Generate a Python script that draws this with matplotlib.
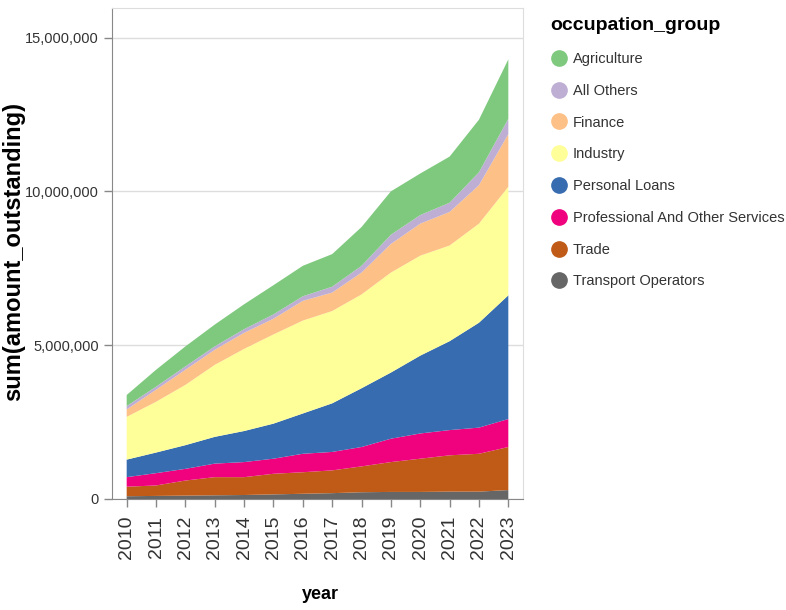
import matplotlib
matplotlib.use("Agg")
import matplotlib.pyplot as plt
from matplotlib.lines import Line2D
from matplotlib.ticker import FuncFormatter
import numpy as np

plt.rcParams["font.family"] = ["Liberation Sans", "DejaVu Sans"]

years = list(range(2010, 2024))

# occupation groups in legend order (stack is drawn bottom-up in reverse)
groups = ["Agriculture", "All Others", "Finance", "Industry", "Personal Loans",
          "Professional And Other Services", "Trade", "Transport Operators"]
colors = ["#7fc97f", "#beaed4", "#fdc086", "#ffff99", "#386cb0",
          "#f0027f", "#bf5b17", "#666666"]

agriculture = [360000, 550000, 650000, 710000, 810000, 950000, 990000,
               1060000, 1260000, 1410000, 1350000, 1500000, 1710000, 1930000]
all_others = [110000, 100000, 110000, 110000, 120000, 140000, 150000,
              190000, 220000, 300000, 280000, 300000, 420000, 500000]
finance = [240000, 390000, 490000, 490000, 520000, 510000, 640000,
           600000, 710000, 930000, 1040000, 1090000, 1250000, 1710000]
industry = [1390000, 1650000, 1960000, 2340000, 2670000, 2900000, 3020000,
            3000000, 3050000, 3250000, 3250000, 3110000, 3220000, 3530000]
personal_loans = [570000, 670000, 770000, 870000, 1010000, 1140000, 1310000,
                  1580000, 1910000, 2150000, 2530000, 2890000, 3410000, 4020000]
professional = [310000, 400000, 380000, 440000, 490000, 490000, 600000,
                600000, 630000, 760000, 820000, 820000, 850000, 910000]
trade = [310000, 340000, 490000, 590000, 580000, 670000, 700000,
         740000, 840000, 970000, 1080000, 1180000, 1230000, 1400000]
transport = [90000, 100000, 110000, 120000, 130000, 150000, 170000,
             190000, 220000, 230000, 230000, 240000, 240000, 290000]

series = [agriculture, all_others, finance, industry, personal_loans,
          professional, trade, transport]

fig = plt.figure(figsize=(7.86, 6.10), dpi=100)
ax = fig.add_axes([112 / 786, 1 - 499 / 610, (523 - 112) / 786, (499 - 8) / 610])

ax.stackplot(years, [np.array(s) for s in series[::-1]],
             colors=colors[::-1], linewidth=0)

ax.set_xlim(2009.5, 2023.5)
ax.set_ylim(0, 15.96e6)
ax.set_yticks([0, 5e6, 10e6, 15e6])
ax.yaxis.set_major_formatter(FuncFormatter(lambda v, p: f"{v:,.0f}"))
ax.set_xticks(years)
ax.set_xticklabels([str(y) for y in years], rotation=90, va="top", ha="center")

ax.grid(axis="y", color="#dddddd", linewidth=1)
ax.set_axisbelow(True)
for side in ["top", "right"]:
    ax.spines[side].set_color("#dddddd")
for side in ["left", "bottom"]:
    ax.spines[side].set_color("#888888")
ax.tick_params(axis="both", colors="#888888", length=6, width=1,
               labelcolor="#333333", labelsize=10.5)
ax.tick_params(axis="x", labelsize=14, pad=6)

ax.set_xlabel("year", fontsize=13, fontweight="bold")
ax.xaxis.set_label_coords(0.506, -0.178)
ax.set_ylabel("sum(amount_outstanding)", fontsize=17, fontweight="bold")
ax.yaxis.set_label_coords(-0.212, 0.505)

handles = [Line2D([], [], marker="o", linestyle="", markersize=11,
                  markerfacecolor=c, markeredgecolor=c) for c in colors]
leg = fig.legend(handles, groups, title="occupation_group",
                 loc="upper left", bbox_to_anchor=(537 / 786, 1 - 4 / 610),
                 frameon=False, fontsize=10.5, labelspacing=1.22,
                 handletextpad=0.35, handlelength=1.2, alignment="left",
                 title_fontproperties={"weight": "bold", "size": 14})
for t in leg.get_texts():
    t.set_color("#333333")

fig.savefig("out.png", dpi=100)
